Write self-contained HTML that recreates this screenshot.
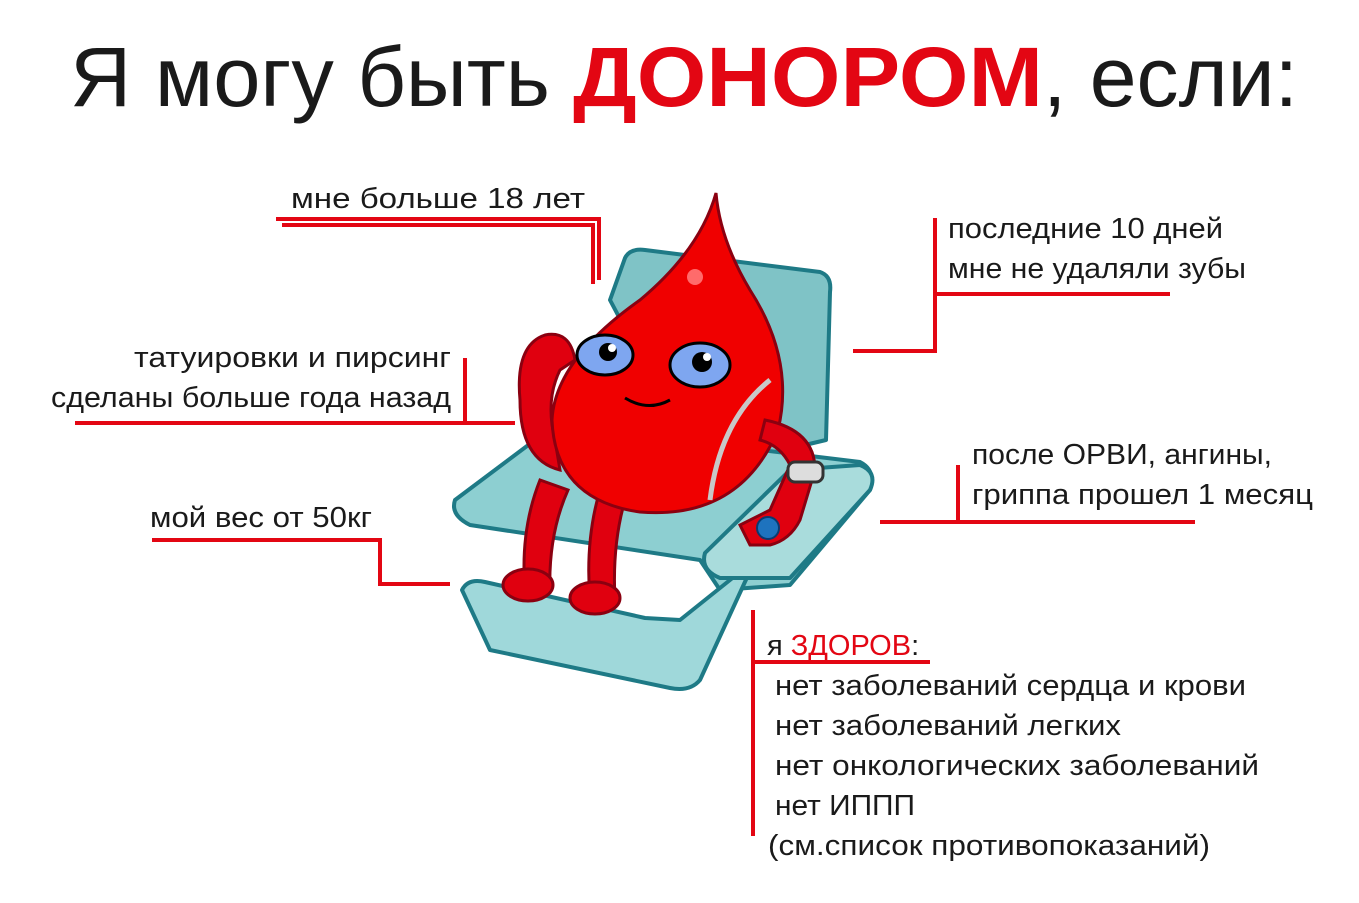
<!DOCTYPE html>
<html><head><meta charset="utf-8"><style>
html,body{margin:0;padding:0;background:#fff;}
svg{display:block;}
text{font-family:"Liberation Sans",sans-serif;fill:#1a1a1a;}
</style></head><body>
<svg width="1359" height="903" viewBox="0 0 1359 903" xmlns="http://www.w3.org/2000/svg">
<!-- title -->
<text x="70" y="106" font-size="84" textLength="480" lengthAdjust="spacingAndGlyphs">Я могу быть</text>
<text x="573" y="106" font-size="84" font-weight="bold" fill="#e30613" style="fill:#e30613" textLength="470" lengthAdjust="spacingAndGlyphs">ДОНОРОМ</text>
<text x="1043" y="106" font-size="84" textLength="255" lengthAdjust="spacingAndGlyphs">, если:</text>

<!-- chair -->
<g stroke="#1e7a86" stroke-width="4" stroke-linejoin="round">
<path d="M625 258 Q630 248 645 250 L820 272 Q832 276 830 292 L826 440 L700 470 L610 300 Z" fill="#7fc3c6"/>
<path d="M455 500 L555 425 L860 462 Q876 470 870 490 L790 585 L720 590 L700 560 L470 525 Q450 515 455 500 Z" fill="#8dcfd1"/>
<path d="M462 590 Q468 578 485 582 L645 618 L680 620 L755 560 L700 680 Q690 692 670 688 L490 650 Z" fill="#9fd8da"/>
<path d="M705 553 L790 470 L860 465 Q878 472 870 490 L790 578 L720 578 Q700 570 705 553 Z" fill="#a9dcdc"/>
</g>
<!-- legs -->
<g stroke="#8b0010" stroke-width="3" fill="#e0000f">
<path d="M540 480 Q520 530 525 590 L550 592 Q548 535 568 490 Z"/>
<path d="M600 490 Q585 540 590 600 L615 600 Q612 545 625 500 Z"/>
<ellipse cx="528" cy="585" rx="25" ry="16"/>
<ellipse cx="595" cy="598" rx="25" ry="16"/>
</g>
<!-- left arm to head -->
<g stroke="#8b0010" stroke-width="3" fill="#e0000f">
<path d="M560 470 Q520 460 520 400 Q515 345 545 335 Q570 330 575 360 L560 370 Q545 400 555 440 Z"/>
</g>
<!-- drop body -->
<path d="M716 193 Q700 250 640 300 Q555 360 552 420 Q555 500 640 512 Q740 520 778 430 Q795 360 750 290 Q720 240 716 193 Z" fill="#f00000" stroke="#8b0010" stroke-width="3"/>
<path d="M770 380 Q720 420 710 500" fill="none" stroke="#c8c8c8" stroke-width="5"/>
<circle cx="695" cy="277" r="8" fill="#ff6b6b"/>
<!-- eyes -->
<g stroke="#000" stroke-width="3">
<ellipse cx="605" cy="355" rx="28" ry="20" fill="#7ea6f0"/>
<ellipse cx="700" cy="365" rx="30" ry="22" fill="#7ea6f0"/>
</g>
<circle cx="608" cy="352" r="9" fill="#000"/><circle cx="702" cy="362" r="10" fill="#000"/>
<circle cx="612" cy="348" r="4" fill="#fff"/><circle cx="707" cy="357" r="4" fill="#fff"/>
<path d="M625 398 Q648 412 670 400" fill="none" stroke="#000" stroke-width="3"/>
<!-- right arm -->
<path d="M765 420 Q815 430 815 470 L800 520 Q790 540 770 545 L750 545 L740 525 L770 510 L790 465 Q780 445 760 440 Z" fill="#e0000f" stroke="#8b0010" stroke-width="3"/>
<rect x="788" y="462" width="35" height="20" rx="7" fill="#ddd" stroke="#333" stroke-width="3"/>
<circle cx="768" cy="528" r="11" fill="#1e73be" stroke="#0a3a70" stroke-width="2"/>

<!-- connectors -->
<g stroke="#e30613" stroke-width="4" fill="none">
<path d="M276 219 H599 V280"/>
<path d="M282 225 H593 V284"/>
<path d="M465 358 V423 M75 423 H515"/>
<path d="M152 540 H380 V584 H450"/>
<path d="M935 294 H1170 M935 218 V351 H853"/>
<path d="M958 465 V522 M880 522 H1195"/>
<path d="M753 610 V836 M753 662 H930"/>
</g>

<!-- labels -->
<g font-size="29">
<text x="291" y="208" textLength="294" lengthAdjust="spacingAndGlyphs">мне больше 18 лет</text>
<text x="948" y="238" textLength="275" lengthAdjust="spacingAndGlyphs">последние 10 дней</text>
<text x="948" y="278" textLength="298" lengthAdjust="spacingAndGlyphs">мне не удаляли зубы</text>
<text x="134" y="367" textLength="317" lengthAdjust="spacingAndGlyphs">татуировки и пирсинг</text>
<text x="51" y="407" textLength="400" lengthAdjust="spacingAndGlyphs">сделаны больше года назад</text>
<text x="150" y="527" textLength="222" lengthAdjust="spacingAndGlyphs">мой вес от 50кг</text>
<text x="972" y="464" textLength="300" lengthAdjust="spacingAndGlyphs">после ОРВИ, ангины,</text>
<text x="972" y="504" textLength="341" lengthAdjust="spacingAndGlyphs">гриппа прошел 1 месяц</text>
<text x="767" y="655">я <tspan style="fill:#e30613">ЗДОРОВ</tspan>:</text>
<text x="775" y="695" textLength="471" lengthAdjust="spacingAndGlyphs">нет заболеваний сердца и крови</text>
<text x="775" y="735" textLength="346" lengthAdjust="spacingAndGlyphs">нет заболеваний легких</text>
<text x="775" y="775" textLength="484" lengthAdjust="spacingAndGlyphs">нет онкологических заболеваний</text>
<text x="775" y="815" textLength="140" lengthAdjust="spacingAndGlyphs">нет ИППП</text>
<text x="768" y="855" textLength="442" lengthAdjust="spacingAndGlyphs">(см.список противопоказаний)</text>
</g>
</svg>
</body></html>
